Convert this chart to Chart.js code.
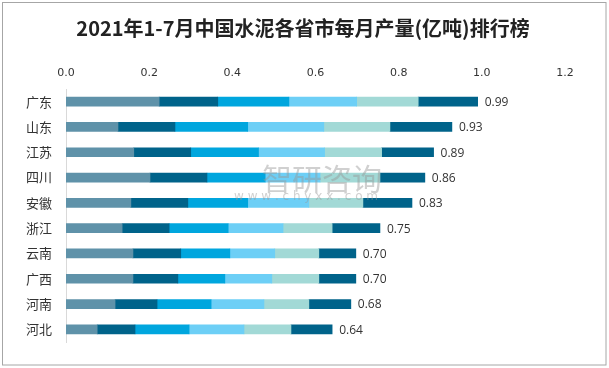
<!DOCTYPE html>
<html>
<head>
<meta charset="utf-8">
<script src="https://cdn.jsdelivr.net/npm/chart.js@4/dist/chart.umd.min.js"></script>
<style>
  html, body { margin: 0; padding: 0; background: #fff; }
  #wrap { width: 609px; height: 368px; }
</style>
</head>
<body>
<div id="wrap"><canvas id="rankChart" width="609" height="368"></canvas></div>
<script>
const chartTitle = '2021年1-7月中国水泥各省市每月产量(亿吨)排行榜';
const provinces = ['广东', '山东', '江苏', '四川', '安徽', '浙江', '云南', '广西', '河南', '河北'];
const totals = [0.99, 0.93, 0.89, 0.86, 0.83, 0.75, 0.70, 0.70, 0.68, 0.64];
const xTicks = [0, 0.2, 0.4, 0.6, 0.8, 1.0, 1.2];

const m12 = [0.224, 0.125, 0.163, 0.202, 0.156, 0.135, 0.161, 0.161, 0.118, 0.075];
const m3 = [0.141, 0.137, 0.137, 0.137, 0.137, 0.113, 0.115, 0.108, 0.101, 0.091];
const m4 = [0.171, 0.175, 0.163, 0.140, 0.144, 0.142, 0.118, 0.113, 0.130, 0.130];
const m5 = [0.163, 0.183, 0.159, 0.132, 0.147, 0.132, 0.108, 0.113, 0.127, 0.132];
const m6 = [0.148, 0.159, 0.137, 0.144, 0.130, 0.118, 0.106, 0.113, 0.108, 0.113];
const m7 = [0.143, 0.149, 0.125, 0.108, 0.118, 0.115, 0.089, 0.089, 0.101, 0.099];

const monthNames = ['1-2月', '3月', '4月', '5月', '6月', '7月'];
const monthData = [m12, m3, m4, m5, m6, m7];
const monthColors = ['#5f92a9', '#00638a', '#00a6de', '#6dcff6', '#a2d9d6', '#00638a'];

// frame round the picture + title centred on the whole picture
const framePlugin = {
    id: 'frame',
    afterDraw(chart) {
        const ctx = chart.ctx;
        ctx.save();
        ctx.strokeStyle = '#a6a6a6';
        ctx.lineWidth = 1;
        ctx.strokeRect(2.5, 2.5, 603.5, 362.5);
        ctx.fillStyle = '#222';
        ctx.font = 'bold 20px "Noto Sans CJK SC"';
        ctx.textAlign = 'center';
        ctx.textBaseline = 'middle';
        ctx.fillText(chartTitle, 303, 28);
        ctx.restore();
    }
};

// total value after each bar + faint watermark
const totalsPlugin = {
    id: 'totals',
    afterDatasetsDraw(chart) {
        const ctx = chart.ctx;
        const last = chart.getDatasetMeta(chart.data.datasets.length - 1);
        ctx.save();
        ctx.fillStyle = 'rgba(150,150,150,0.45)';
        ctx.font = '30px "Noto Sans CJK SC"';
        ctx.textBaseline = 'middle';
        ctx.textAlign = 'left';
        ctx.fillText('智研咨询', 262, 179);
        ctx.font = '12px "DejaVu Sans"';
        ctx.fillText('w w w . c h y x x . c o m', 234, 197);
        ctx.fillStyle = '#333';
        ctx.font = '12px "Open Sans"';
        last.data.forEach((bar, i) => {
            ctx.fillText(totals[i].toFixed(2), bar.x + 7, bar.y + 1);
        });
        ctx.restore();
    }
};

new Chart(document.getElementById('rankChart').getContext('2d'), {
    type: 'bar',
    data: {
        labels: provinces,
        datasets: monthData.map((d, i) => ({
            label: monthNames[i],
            data: d,
            backgroundColor: monthColors[i],
            borderWidth: 0,
            barThickness: 9
        }))
    },
    options: {
        indexAxis: 'y',
        responsive: false,
        animation: false,
        layout: { padding: { left: 0, right: 44, top: 45, bottom: 26 } },
        scales: {
            x: {
                position: 'top',
                stacked: true,
                min: 0,
                max: 1.2,
                afterBuildTicks(scale) { scale.ticks = xTicks.map(v => ({ value: v })); },
                afterFit(scale) { scale.height = 44; },
                grid: { display: false, drawTicks: false },
                border: { display: false },
                ticks: {
                    padding: 9,
                    color: '#333',
                    font: { family: 'DejaVu Sans', size: 11 },
                    callback: v => v.toFixed(1)
                }
            },
            y: {
                stacked: true,
                afterFit(scale) { scale.width = 66; },
                grid: { display: false, drawTicks: false },
                border: { display: true, color: '#d9d9d9' },
                ticks: {
                    padding: 14,
                    color: '#333',
                    font: { family: 'Noto Sans CJK SC', size: 13 }
                }
            }
        },
        plugins: {
            legend: { display: false },
            tooltip: { enabled: false }
        }
    },
    plugins: [framePlugin, totalsPlugin]
});
</script>
</body>
</html>
